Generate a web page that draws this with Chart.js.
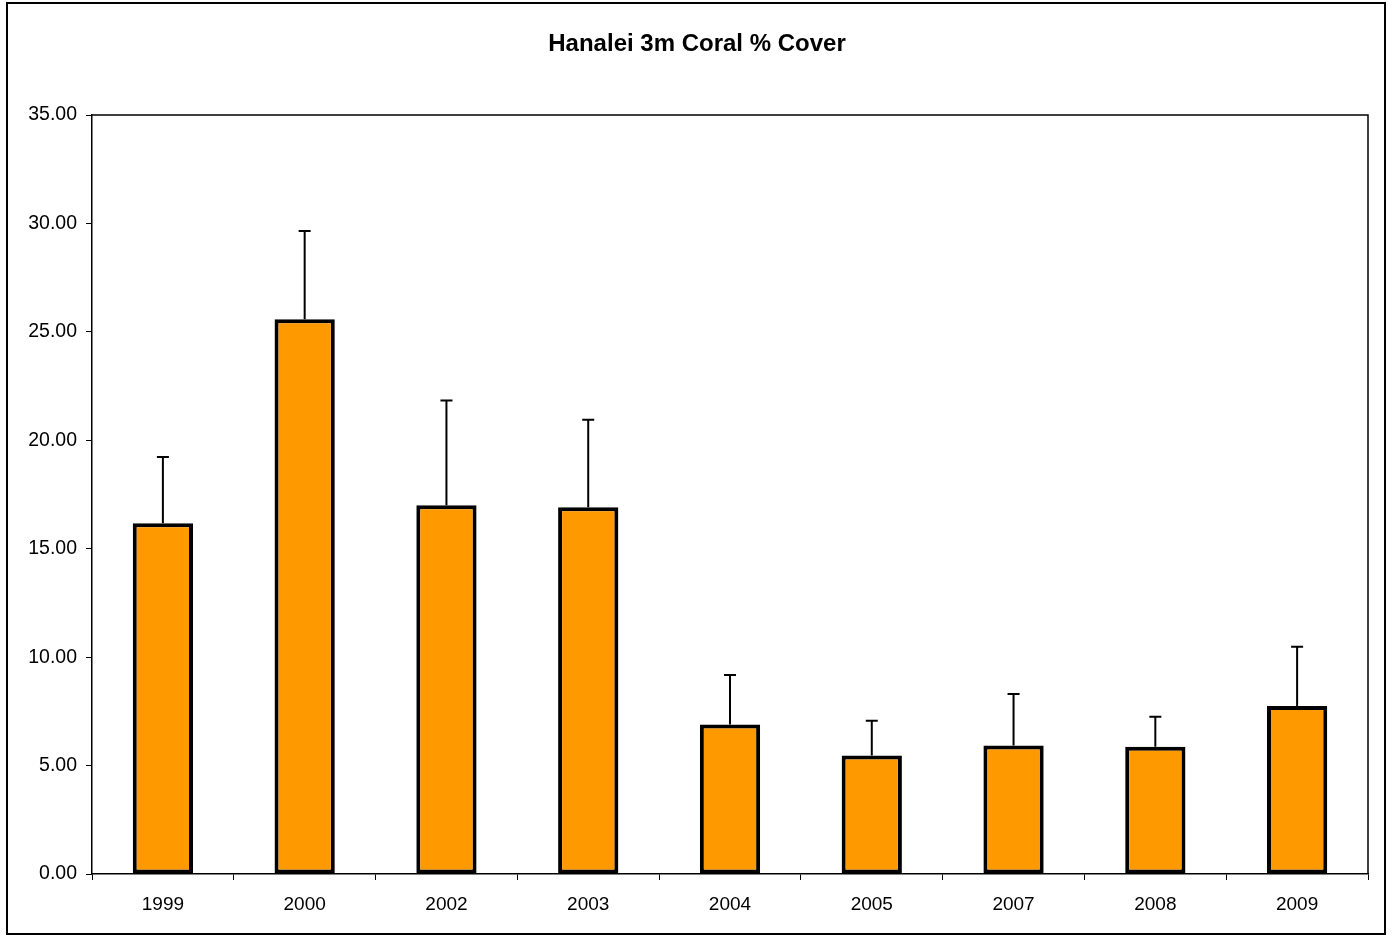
<!DOCTYPE html>
<html>
<head>
<meta charset="utf-8">
<title>Hanalei 3m Coral % Cover</title>
<script src="https://cdn.jsdelivr.net/npm/chart.js@4.4.1/dist/chart.umd.min.js"></script>
<style>
  html, body { margin: 0; padding: 0; background: #fff; }
  #wrap { width: 1394px; height: 936px; position: relative; }
</style>
</head>
<body>
<div id="wrap"><canvas id="myChart"></canvas></div>
<script>
const years = ['1999', '2000', '2002', '2003', '2004', '2005', '2007', '2008', '2009'];
const coverMean = [16.17, 25.58, 17.00, 16.91, 6.89, 5.46, 5.92, 5.87, 7.75];
const coverErr = [3.06, 4.07, 4.84, 4.04, 2.29, 1.61, 2.38, 1.38, 2.73];
const yTicks = [0, 5, 10, 15, 20, 25, 30, 35];

// error bars (upper only) + plot box + outer frame
const extras = {
  id: 'extras',
  afterDatasetsDraw(chart) {
    const ctx = chart.ctx;
    const y = chart.scales.y;
    const meta = chart.getDatasetMeta(0);
    ctx.save();
    ctx.strokeStyle = '#000';
    ctx.lineWidth = 2;
    meta.data.forEach((bar, i) => {
      const top = y.getPixelForValue(coverMean[i] + coverErr[i]);
      ctx.beginPath();
      ctx.moveTo(bar.x, bar.y);
      ctx.lineTo(bar.x, top);
      ctx.moveTo(bar.x - 6, top);
      ctx.lineTo(bar.x + 6, top);
      ctx.stroke();
    });
    ctx.restore();
  },
  afterDraw(chart) {
    const ctx = chart.ctx;
    const a = chart.chartArea;
    ctx.save();
    ctx.strokeStyle = '#000';
    ctx.lineWidth = 1.5;
    ctx.beginPath();
    ctx.moveTo(a.left, a.top);
    ctx.lineTo(a.right, a.top);
    ctx.lineTo(a.right, a.bottom);
    ctx.stroke();
    ctx.lineWidth = 2;
    ctx.strokeRect(7, 3, 1378, 931);
    ctx.restore();
  }
};

const data = {
  labels: years,
  datasets: [
    {
      label: 'Coral % Cover',
      data: coverMean,
      backgroundColor: '#FF9900',
      borderColor: '#000',
      borderWidth: 4,
      borderSkipped: false,
      categoryPercentage: 1,
      barPercentage: 0.425
    }
  ]
};

const config = {
  type: 'bar',
  data: data,
  plugins: [extras],
  options: {
    responsive: true,
    maintainAspectRatio: false,
    animation: false,
    layout: { padding: { left: 26, right: 26, top: 0, bottom: 0 } },
    plugins: {
      legend: { display: false },
      tooltip: { enabled: false },
      title: {
        display: true,
        text: 'Hanalei 3m Coral % Cover',
        color: '#000',
        font: { family: 'Liberation Sans, Arial, sans-serif', size: 24, weight: 'bold' },
        padding: { top: 30, bottom: 56.2 }
      }
    },
    scales: {
      x: {
        afterFit: (s) => { s.height = 62; },
        border: { display: true, color: '#000', width: 1.5 },
        grid: { display: true, offset: true, drawOnChartArea: false, drawTicks: true, tickLength: 6, color: '#000', lineWidth: 1 },
        ticks: { color: '#000', padding: 13, font: { family: 'Liberation Sans, Arial, sans-serif', size: 19 } }
      },
      y: {
        min: 0,
        max: 35,
        afterFit: (s) => { s.width = 66; },
        afterBuildTicks: (s) => { s.ticks = yTicks.map(v => ({ value: v })); },
        border: { display: true, color: '#000', width: 1.5 },
        grid: { display: true, drawOnChartArea: false, drawTicks: true, tickLength: 6, color: '#000', lineWidth: 1 },
        ticks: {
          color: '#000',
          padding: 9,
          font: { family: 'Liberation Sans, Arial, sans-serif', size: 19.5 },
          callback: (v) => Number(v).toFixed(2)
        }
      }
    }
  }
};

const ctx = document.getElementById('myChart').getContext('2d');
const chartItem = Chart.getChart('myChart');
if (chartItem) chartItem.destroy();
const chart = new Chart(ctx, config);
</script>
</body>
</html>
